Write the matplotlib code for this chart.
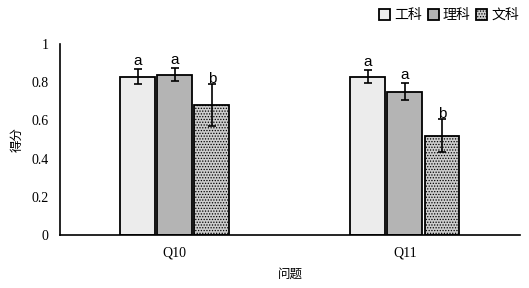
import numpy as np
import matplotlib.pyplot as plt

plt.rcParams['font.family'] = ['Liberation Serif', 'Noto Sans CJK SC']
plt.rcParams['hatch.color'] = '#a8a8a8'
plt.rcParams['hatch.linewidth'] = 0.6

# 数据
questions = ['Q10', 'Q11']
groups = ['工科', '理科', '文科']
scores = {
    '工科': [0.83, 0.83],
    '理科': [0.84, 0.75],
    '文科': [0.68, 0.52],
}
errors = {
    '工科': [0.04, 0.035],
    '理科': [0.035, 0.045],
    '文科': [0.11, 0.085],
}
letters = {
    '工科': ['a', 'a'],
    '理科': ['a', 'a'],
    '文科': ['b', 'b'],
}

colors = ['#ececec', '#b4b4b4', '#cdcdcd']
hatches = [None, None, '......']

fig = plt.figure(figsize=(5.29, 2.88), dpi=100)
ax = fig.add_axes([0.113, 0.184, 0.87, 0.663])

x = np.arange(len(questions))
width = 0.152
offsets = [-0.161, 0, 0.161]

for i, g in enumerate(groups):
    ax.bar(x + offsets[i], scores[g], width, color=colors[i], edgecolor='black',
           linewidth=1.3, hatch=hatches[i], label=g, zorder=2)
    ax.errorbar(x + offsets[i], scores[g], yerr=errors[g], fmt='none', ecolor='black',
                elinewidth=1.2, capsize=3, capthick=1.2, zorder=3)
    for j in range(len(questions)):
        ax.text(x[j] + offsets[i], scores[g][j] + errors[g][j] - 0.01 if g == '文科' else scores[g][j] + errors[g][j] + 0.005,
                letters[g][j], ha='center', va='bottom', fontsize=11,
                family='Liberation Sans', zorder=4)

ax.set_xlim(-0.5, 1.5)
ax.set_ylim(0, 1)
ax.set_xticks(x)
ax.set_xticklabels(questions, fontsize=10)
ax.set_yticks([0, 0.2, 0.4, 0.6, 0.8, 1])
ax.set_yticklabels(['0', '0.2', '0.4', '0.6', '0.8', '1'], fontsize=10)
ax.tick_params(length=0, pad=8)
ax.spines['top'].set_visible(False)
ax.spines['right'].set_visible(False)
ax.spines['left'].set_linewidth(1.2)
ax.spines['bottom'].set_linewidth(1.2)

ax.set_xlabel('问题', fontsize=9, family='Noto Sans CJK SC', labelpad=6)
ax.set_ylabel('得分', fontsize=9, family='Noto Sans CJK SC', labelpad=6)

fig.legend(loc='upper right', bbox_to_anchor=(1.005, 1.015), ncol=3, frameon=False,
           handlelength=0.8, handleheight=0.8, handletextpad=0.3, columnspacing=0.4,
           prop={'family': 'Noto Sans CJK SC', 'size': 10})

fig.savefig('out.png', dpi=100)
